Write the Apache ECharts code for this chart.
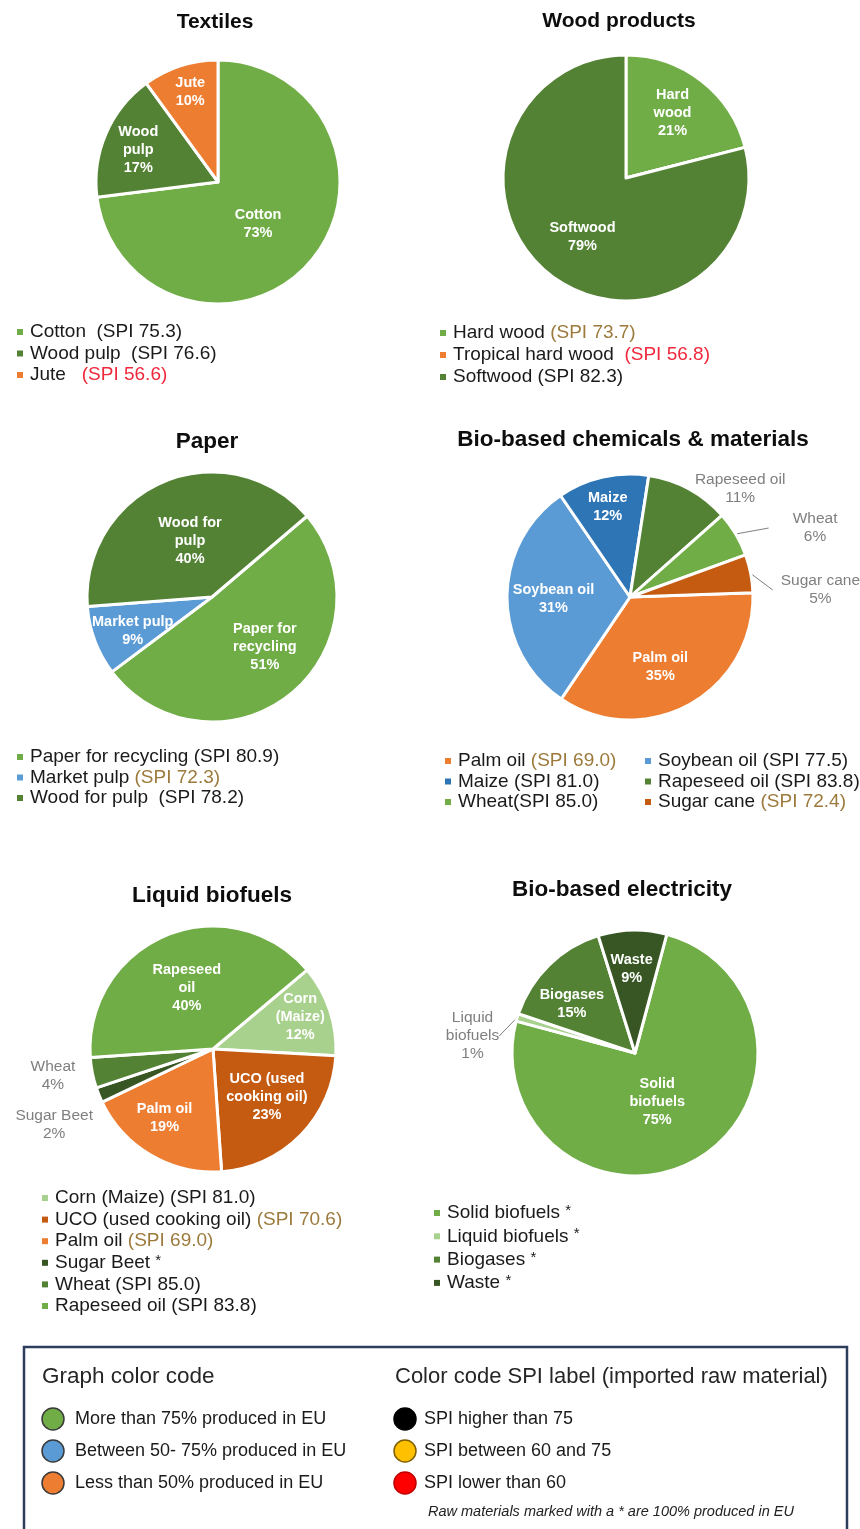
<!DOCTYPE html>
<html>
<head>
<meta charset="utf-8">
<script src="https://cdn.jsdelivr.net/npm/echarts@6/dist/echarts.min.js"></script>
<style>
  html, body { margin: 0; padding: 0; background: #fff; }
  #chart { width: 860px; height: 1529px; }
</style>
</head>
<body>
<div id="chart"></div>
<script>
// ---- Data: share of each raw material (%) and its SPI score (null = 100% produced in EU) ----
const textilesNames  = ['Cotton', 'Wood pulp', 'Jute'];
const textilesLabels = ['Cotton', 'Wood\npulp', 'Jute'];
const textilesShare  = [73, 17, 10];
const textilesSpi    = [75.3, 76.6, 56.6];

const woodNames  = ['Hard wood', 'Tropical hard wood', 'Softwood'];
const woodLabels = ['Hard\nwood', 'Tropical hard wood', 'Softwood'];
const woodShare  = [21, 0, 79];
const woodSpi    = [73.7, 56.8, 82.3];

const paperNames  = ['Paper for recycling', 'Market pulp', 'Wood for pulp'];
const paperLabels = ['Paper for\nrecycling', 'Market pulp', 'Wood for\npulp'];
const paperShare  = [51, 9, 40];
const paperSpi    = [80.9, 72.3, 78.2];

const chemNames  = ['Palm oil', 'Soybean oil', 'Maize', 'Rapeseed oil', 'Wheat', 'Sugar cane'];
const chemLabels = ['Palm oil', 'Soybean oil', 'Maize', 'Rapeseed oil', 'Wheat', 'Sugar cane'];
const chemShare  = [35, 31, 12, 11, 6, 5];
const chemSpi    = [69.0, 77.5, 81.0, 83.8, 85.0, 72.4];

const fuelNames  = ['Corn (Maize)', 'UCO (used cooking oil)', 'Palm oil', 'Sugar Beet', 'Wheat', 'Rapeseed oil'];
const fuelLabels = ['Corn\n(Maize)', 'UCO (used\ncooking oil)', 'Palm oil', 'Sugar Beet', 'Wheat', 'Rapeseed\noil'];
const fuelShare  = [12, 23, 19, 2, 4, 40];
const fuelSpi    = [81.0, 70.6, 69.0, null, 85.0, 83.8];

const elecNames  = ['Solid biofuels', 'Liquid biofuels', 'Biogases', 'Waste'];
const elecLabels = ['Solid\nbiofuels', 'Liquid\nbiofuels', 'Biogases', 'Waste'];
const elecShare  = [75, 1, 15, 9];
const elecSpi    = [null, null, null, null];

const euShareClasses = ['More than 75% produced in EU', 'Between 50- 75% produced in EU', 'Less than 50% produced in EU'];
const spiClasses     = ['SPI higher than 75', 'SPI between 60 and 75', 'SPI lower than 60'];
const noteText       = 'Raw materials marked with a * are 100% produced in EU';

// ---- Styles ----
const FONT = "'Liberation Sans', Arial, Helvetica, sans-serif";
const GREEN = '#70AD47', DARK = '#548235', DARKEST = '#375623', LIGHT = '#A9D18E';
const ORANGE = '#ED7D31', RUST = '#C55A11', BLUE = '#5B9BD5', NAVY = '#2E75B6';
const GREY = '#7f7f7f';
const TXT = '#1a1a1a', SPI_MID = '#9c7a3c', SPI_LOW = '#f0283c';

function spiClass(v) { return v > 75 ? 'hi' : (v >= 60 ? 'mid' : 'lo'); }

const panels = [
  { title: 'Textiles', titlePos: [215, 22], titleSize: 21, center: [218, 182], r: 122, start: 90,
    names: textilesNames, labels: textilesLabels, share: textilesShare, spi: textilesSpi,
    colors: [GREEN, DARK, ORANGE],
    offsets: [[-8, 0], [-21, -7], [-8, -29]], outside: {},
    legend: { x: [30], y: 332, step: 21.5, cols: 1, sep: ['  ', '  ', '   '] } },
  { title: 'Wood products', titlePos: [619, 21], titleSize: 21, center: [626, 178], r: 123, start: 90,
    names: woodNames, labels: woodLabels, share: woodShare, spi: woodSpi,
    colors: [GREEN, ORANGE, DARK],
    offsets: [[7, -14], null, [-4, 8]], outside: {},
    legend: { x: [453], y: 333, step: 22, cols: 1, sep: [' ', '  ', ' '] } },
  { title: 'Paper', titlePos: [207, 442], titleSize: 22.5, center: [212, 597], r: 125, start: 40.4,
    names: paperNames, labels: paperLabels, share: paperShare, spi: paperSpi,
    colors: [GREEN, BLUE, DARK],
    offsets: [[12, -1], [-18, 11], [3, 5]], outside: {},
    legend: { x: [30], y: 757, step: 20.5, cols: 1, sep: [' ', ' ', '  '] } },
  { title: 'Bio-based chemicals & materials', titlePos: [633, 440], titleSize: 22.5, center: [630, 597], r: 123, start: 2,
    names: chemNames, labels: chemLabels, share: chemShare, spi: chemSpi,
    colors: [ORANGE, BLUE, NAVY, DARK, GREEN, RUST],
    offsets: [[-1, 14], [-12, 2], [-8, -27], [6, 0], [33, -6], [22, 16.5]],
    outside: { 3: { pad: 0, line: false }, 4: { pad: [0, 24], line: true }, 5: { pad: [0, 8], line: true } },
    legend: { x: [458, 658], y: 761, step: 20.5, cols: 2, sep: [' ', ' ', ' ', ' ', '', ' '] } },
  { title: 'Liquid biofuels', titlePos: [212, 896], titleSize: 22.5, center: [213, 1049], r: 123, start: 40,
    names: fuelNames, labels: fuelLabels, share: fuelShare, spi: fuelSpi,
    colors: [LIGHT, RUST, ORANGE, DARKEST, DARK, GREEN],
    offsets: [[26, -12], [8, 3], [-16, 13], [-6, 30], [-17, 3], [-2, -1]],
    outside: { 3: { pad: 0, line: false }, 4: { pad: 0, line: false } },
    legend: { x: [55], y: 1198, step: 21.6, cols: 1, sep: [' ', ' ', ' ', ' ', ' ', ' '] } },
  { title: 'Bio-based electricity', titlePos: [622, 890], titleSize: 22.5, center: [635, 1053], r: 123, start: 75,
    names: elecNames, labels: elecLabels, share: elecShare, spi: elecSpi,
    colors: [GREEN, LIGHT, DARK, DARKEST],
    offsets: [[-10, -7], [-18, 18.5], [-18, -3], [-2, -20]],
    outside: { 1: { pad: 0, line: true } },
    legend: { x: [447], y: 1213, step: 23.3, cols: 1, sep: [' ', ' ', ' ', ' '] } }
];

function pieSeries(p) {
  return {
    type: 'pie',
    center: p.center,
    radius: p.r,
    startAngle: p.start,
    clockwise: true,
    avoidLabelOverlap: false,
    silent: true,
    animation: false,
    itemStyle: { borderColor: '#fff', borderWidth: 3 },
    label: {
      show: true, position: 'inside', color: '#fff',
      fontFamily: FONT, fontSize: 14.5, fontWeight: 'bold', lineHeight: 18,
      formatter: q => p.labels[q.dataIndex] + '\n' + q.value + '%'
    },
    labelLine: { show: false },
    labelLayout: q => {
      const o = p.offsets[q.dataIndex];
      if (!o) return {};
      const r = q.labelRect;
      return { x: r.x + r.width / 2 + o[0], y: r.y + r.height / 2 + o[1], align: 'center', verticalAlign: 'middle' };
    },
    data: p.share.map((v, i) => {
      const item = { name: p.names[i], value: v, itemStyle: { color: p.colors[i] } };
      if (v === 0) item.label = { show: false };
      const o = p.outside[i];
      if (o) {
        item.label = {
          position: 'outside', color: GREY, fontWeight: 'normal', fontSize: 15.5, lineHeight: 18,
          distanceToLabelLine: 0, padding: o.pad
        };
        item.labelLine = { show: o.line, length: 0, length2: 0, lineStyle: { color: GREY, width: 1 } };
      }
      return item;
    })
  };
}

// ---- Legends under each pie ----
function tok(size, color, extra) {
  return Object.assign({ fontSize: size, fontFamily: FONT, fill: color }, extra || {});
}
const LEGEND_RICH = {
  n: tok(19, TXT), hi: tok(19, TXT), mid: tok(19, SPI_MID), lo: tok(19, SPI_LOW),
  s: tok(15, TXT, { verticalAlign: 'top' })
};

const graphics = [];
panels.forEach(p => {
  const L = p.legend;
  p.names.forEach((name, i) => {
    const col = L.cols === 2 ? i % 2 : 0;
    const row = L.cols === 2 ? Math.floor(i / 2) : i;
    const tx = L.x[col], ty = L.y + row * L.step;
    graphics.push({ type: 'rect', silent: true, shape: { x: tx - 13, y: ty - 3, width: 6, height: 6 }, style: { fill: p.colors[i] } });
    const spi = p.spi[i];
    const text = spi == null
      ? '{n|' + name + '} {s|*}'
      : '{n|' + name + '}' + L.sep[i] + '{' + spiClass(spi) + '|(SPI ' + spi.toFixed(1) + ')}';
    graphics.push({ type: 'text', silent: true, x: tx, y: ty,
      style: { text: text, rich: LEGEND_RICH, fontSize: 19, fontFamily: FONT, fill: TXT, verticalAlign: 'middle' } });
  });
});

// ---- Colour-code box ----
graphics.push({ type: 'rect', silent: true, shape: { x: 24, y: 1347, width: 823, height: 200 },
  style: { fill: 'none', stroke: '#2e3d5c', lineWidth: 2.5 } });
graphics.push({ type: 'text', silent: true, x: 42, y: 1377,
  style: { text: 'Graph color code', fontSize: 22.5, fontFamily: FONT, fill: '#262626', verticalAlign: 'middle' } });
graphics.push({ type: 'text', silent: true, x: 395, y: 1377,
  style: { text: 'Color code SPI label (imported raw material)', fontSize: 22, fontFamily: FONT, fill: '#262626', verticalAlign: 'middle' } });
const euFill = [GREEN, BLUE, ORANGE];
const spiFill = ['#000000', '#FFC000', '#FF0000'];
const spiStroke = ['#000000', '#7f6000', '#c00000'];
euShareClasses.forEach((t, i) => {
  const y = 1419 + i * 32;
  graphics.push({ type: 'circle', silent: true, shape: { cx: 53, cy: y, r: 11 }, style: { fill: euFill[i], stroke: '#3a3a3a', lineWidth: 1.5 } });
  graphics.push({ type: 'text', silent: true, x: 75, y: y,
    style: { text: t, fontSize: 18, fontFamily: FONT, fill: TXT, verticalAlign: 'middle' } });
});
spiClasses.forEach((t, i) => {
  const y = 1419 + i * 32;
  graphics.push({ type: 'circle', silent: true, shape: { cx: 405, cy: y, r: 11 }, style: { fill: spiFill[i], stroke: spiStroke[i], lineWidth: 1.5 } });
  graphics.push({ type: 'text', silent: true, x: 424, y: y,
    style: { text: t, fontSize: 18, fontFamily: FONT, fill: TXT, verticalAlign: 'middle' } });
});
graphics.push({ type: 'text', silent: true, x: 428, y: 1512,
  style: { text: noteText, fontSize: 14.5, fontStyle: 'italic', fontFamily: FONT, fill: '#222', verticalAlign: 'middle' } });

const chart = echarts.init(document.getElementById('chart'), null, { renderer: 'canvas' });
chart.setOption({
  backgroundColor: '#ffffff',
  animation: false,
  title: panels.map(p => ({
    text: p.title, left: p.titlePos[0], top: p.titlePos[1], padding: 0,
    textAlign: 'center', textVerticalAlign: 'middle',
    textStyle: { fontSize: p.titleSize, fontWeight: 'bold', color: '#0d0d0d', fontFamily: FONT }
  })),
  series: panels.map(pieSeries),
  graphic: graphics
});
</script>
</body>
</html>
